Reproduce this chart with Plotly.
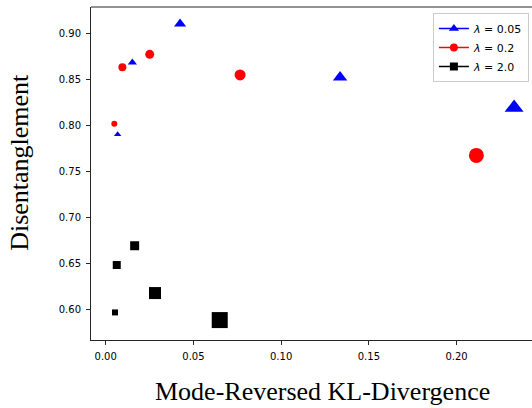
import plotly.graph_objects as go

# lambda = 0.05 (blue triangles)
x_005 = [0.0068, 0.0152, 0.0424, 0.1336, 0.2328]
y_005 = [0.790, 0.868, 0.910, 0.852, 0.819]
s_005 = [6.5, 8, 10.5, 12.5, 16.5]

# lambda = 0.2 (red circles)
x_02 = [0.0049, 0.0095, 0.0251, 0.0766, 0.2113]
y_02 = [0.8016, 0.8628, 0.8769, 0.8545, 0.7673]
s_02 = [6, 8, 9, 11, 15]

# lambda = 2.0 (black squares)
x_2 = [0.0053, 0.0063, 0.0165, 0.0281, 0.0650]
y_2 = [0.5970, 0.6484, 0.6693, 0.6180, 0.5887]
s_2 = [6, 8, 9, 12, 16]

series = [
    ("<i>λ</i> = 0.05", x_005, y_005, s_005, "blue", "triangle-up"),
    ("<i>λ</i> = 0.2", x_02, y_02, s_02, "red", "circle"),
    ("<i>λ</i> = 2.0", x_2, y_2, s_2, "black", "square"),
]

fig = go.Figure()
for name, xs, ys, ss, col, sym in series:
    fig.add_trace(go.Scatter(
        x=xs, y=ys, mode="markers", showlegend=False,
        marker=dict(size=ss, color=col, symbol=sym, opacity=1, line=dict(width=0)),
    ))
for name, xs, ys, ss, col, sym in series:
    fig.add_trace(go.Scatter(
        x=[None], y=[None], mode="lines+markers", name=name,
        line=dict(color=col, width=1.5),
        marker=dict(size=9 if sym == "triangle-up" else 8, color=col, symbol=sym, opacity=1),
    ))

axis_col = "#262626"
fig.update_layout(
    width=532, height=408,
    margin=dict(l=91, r=0, t=7, b=68),
    paper_bgcolor="white", plot_bgcolor="white",
    font=dict(family="DejaVu Sans", size=10, color="black"),
    xaxis=dict(range=[-0.00838, 0.2430], tickvals=[0, 0.05, 0.10, 0.15, 0.20],
               tickformat=".2f", showgrid=False, zeroline=False,
               showline=True, linecolor=axis_col, linewidth=1,
               ticks="outside", ticklen=4, tickwidth=1, tickcolor=axis_col,
               ticklabelstandoff=3),
    yaxis=dict(range=[0.5671, 0.9282], tickvals=[0.60, 0.65, 0.70, 0.75, 0.80, 0.85, 0.90],
               tickformat=".2f", showgrid=False, zeroline=False,
               showline=True, linecolor=axis_col, linewidth=1,
               ticks="outside", ticklen=4, tickwidth=1, tickcolor=axis_col,
               ticklabelstandoff=3),
    legend=dict(x=0.993, y=0.982, xanchor="right", yanchor="top",
                bgcolor="white", bordercolor="#cccccc", borderwidth=1,
                font=dict(family="DejaVu Sans", size=11), tracegroupgap=0),
    shapes=[dict(type="line", xref="paper", yref="paper", x0=0, x1=1, y0=1, y1=1,
                 line=dict(color=axis_col, width=1))],
    annotations=[
        dict(text="Mode-Reversed KL-Divergence", xref="paper", yref="paper",
             x=0.526, y=-0.156, xanchor="center", yanchor="middle", showarrow=False,
             font=dict(family="Liberation Serif", size=26, color="black")),
        dict(text="Disentanglement", xref="paper", yref="paper",
             x=-0.161, y=0.535, xanchor="center", yanchor="middle", showarrow=False,
             textangle=-90,
             font=dict(family="Liberation Serif", size=26, color="black")),
    ],
)
fig.write_html("out.html", config={"displayModeBar": False},
               post_script="document.body.style.margin='0';document.body.style.padding='0';")
